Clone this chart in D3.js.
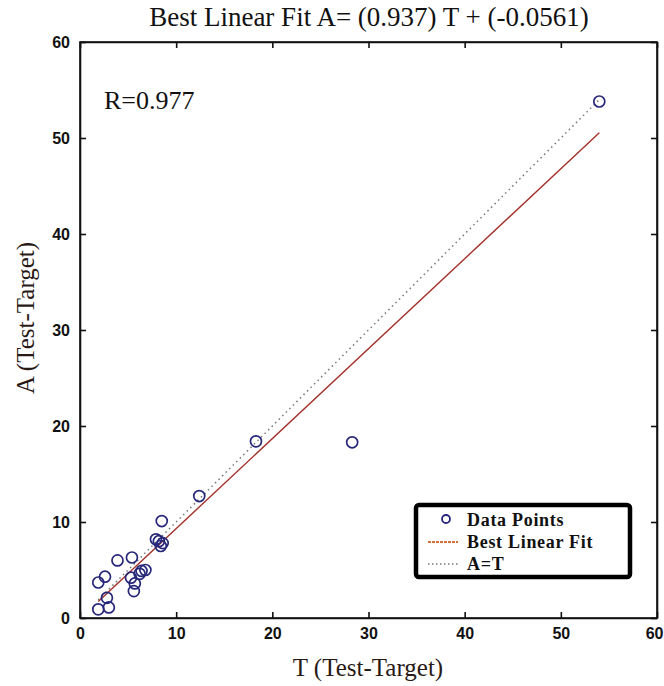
<!DOCTYPE html>
<html>
<head>
<meta charset="utf-8">
<script src="https://cdn.jsdelivr.net/npm/d3@7/dist/d3.min.js"></script>
<style>
  body { margin: 0; background: #fff; }
  svg { display: block; }
</style>
</head>
<body>
<script>
// data
var targetT = [1.9, 3.0, 2.8, 1.9, 2.6, 3.9, 5.4, 5.3, 5.7, 5.6, 6.2, 6.8, 6.4,
               7.9, 8.2, 8.6, 8.4, 8.5, 12.4, 18.3, 28.3, 54.0];
var outputA = [0.9, 1.1, 2.1, 3.7, 4.3, 6.0, 6.3, 4.2, 3.6, 2.8, 4.6, 5.0, 4.9,
               8.2, 8.0, 7.8, 7.5, 10.1, 12.7, 18.4, 18.3, 53.8];
var slope = 0.937, intercept = -0.0561, rValue = 0.977;
var tickValues = [0, 10, 20, 30, 40, 50, 60];
var legendLabels = ["Data Points", "Best Linear Fit", "A=T"];

var width = 664, height = 686;
var plot = {left: 80, right: 657, top: 42, bottom: 618};

var svg = d3.select("body").append("svg")
    .attr("width", width)
    .attr("height", height);

var x = d3.scaleLinear().domain([0, 60]).range([plot.left, plot.right]);
var y = d3.scaleLinear().domain([0, 60]).range([plot.bottom, plot.top]);

// box
svg.append("rect")
    .attr("x", plot.left).attr("y", plot.top)
    .attr("width", plot.right - plot.left)
    .attr("height", plot.bottom - plot.top)
    .attr("fill", "none").attr("stroke", "#111").attr("stroke-width", 1.6);

// axes, MATLAB style ticks pointing inward
var tickFont = "'Liberation Sans', Arial, sans-serif";
var xAxisG = svg.append("g")
    .attr("transform", "translate(0," + plot.bottom + ")")
    .call(d3.axisBottom(x).tickValues(tickValues).tickSizeInner(-6).tickSizeOuter(0).tickPadding(10));
svg.append("g")
    .attr("transform", "translate(" + plot.left + ",0)")
    .call(d3.axisLeft(y).tickValues(tickValues).tickSizeInner(-6).tickSizeOuter(0).tickPadding(10));
svg.append("g")
    .attr("transform", "translate(0," + plot.top + ")")
    .call(d3.axisTop(x).tickValues(tickValues).tickSizeInner(-6).tickSizeOuter(0).tickFormat(""));
svg.append("g")
    .attr("transform", "translate(" + plot.right + ",0)")
    .call(d3.axisRight(y).tickValues(tickValues).tickSizeInner(-6).tickSizeOuter(0).tickFormat(""));

svg.selectAll(".domain").attr("stroke", "#111").attr("stroke-width", 1.6);
svg.selectAll(".tick line").attr("stroke", "#111").attr("stroke-width", 1.6);
svg.selectAll(".tick text")
    .style("font-family", tickFont)
    .style("font-size", "16px")
    .style("font-weight", "bold")
    .attr("fill", "#111");
// last x label sits at the window edge; keep it inside
xAxisG.selectAll(".tick text")
    .filter(function(d){ return d === 60; })
    .attr("text-anchor", "end")
    .attr("dx", 6);

// A = T line (dotted)
var tMin = d3.min(targetT), tMax = d3.max(targetT);
svg.append("line")
    .attr("x1", x(tMin)).attr("y1", y(tMin))
    .attr("x2", x(tMax)).attr("y2", y(tMax))
    .attr("stroke", "#777").attr("stroke-width", 1.5)
    .attr("stroke-dasharray", "1.5,3.5");

// best linear fit
svg.append("line")
    .attr("x1", x(tMin)).attr("y1", y(slope * tMin + intercept))
    .attr("x2", x(tMax)).attr("y2", y(slope * tMax + intercept))
    .attr("stroke", "#a3302a").attr("stroke-width", 1.4);

// points
svg.append("g").selectAll("circle")
    .data(d3.range(targetT.length))
    .join("circle")
    .attr("cx", function(i){ return x(targetT[i]); })
    .attr("cy", function(i){ return y(outputA[i]); })
    .attr("r", 5.5)
    .attr("fill", "none")
    .attr("stroke", "#26267a")
    .attr("stroke-width", 1.7);

// texts
var serif = "'Liberation Serif', 'Times New Roman', serif";
svg.append("text")
    .attr("x", 369).attr("y", 26)
    .attr("text-anchor", "middle")
    .style("font-family", serif).style("font-size", "27px")
    .attr("fill", "#111")
    .text("Best Linear Fit A= (" + slope + ") T + (" + intercept + ")");

svg.append("text")
    .attr("x", 104).attr("y", 109)
    .style("font-family", serif).style("font-size", "26px")
    .attr("fill", "#111")
    .text("R=" + rValue);

svg.append("text")
    .attr("x", 368).attr("y", 676)
    .attr("text-anchor", "middle")
    .style("font-family", serif).style("font-size", "25px")
    .attr("fill", "#2a1a16")
    .text("T (Test-Target)");

svg.append("text")
    .attr("transform", "translate(34,318) rotate(-90)")
    .attr("text-anchor", "middle")
    .style("font-family", serif).style("font-size", "25px")
    .attr("fill", "#2a1a16")
    .text("A (Test-Target)");

// legend
var legend = svg.append("g").attr("transform", "translate(416,505)");
legend.append("rect")
    .attr("x", 0).attr("y", 0).attr("width", 214).attr("height", 72)
    .attr("rx", 3)
    .attr("fill", "#fff").attr("stroke", "#000").attr("stroke-width", 4.5);
var rowY = [15, 37, 59];
legend.append("circle")
    .attr("cx", 30).attr("cy", rowY[0] - 1).attr("r", 4)
    .attr("fill", "none").attr("stroke", "#26267a").attr("stroke-width", 1.8);
legend.append("line")
    .attr("x1", 12).attr("x2", 42).attr("y1", rowY[1]).attr("y2", rowY[1])
    .attr("stroke", "#d0703a").attr("stroke-width", 1.8)
    .attr("stroke-dasharray", "3,1");
legend.append("line")
    .attr("x1", 12).attr("x2", 42).attr("y1", rowY[2]).attr("y2", rowY[2])
    .attr("stroke", "#777").attr("stroke-width", 1.5)
    .attr("stroke-dasharray", "1.5,2.5");
legend.selectAll("text.lab")
    .data(legendLabels)
    .join("text")
    .attr("class", "lab")
    .attr("x", 51)
    .attr("y", function(d, i){ return rowY[i] + 6; })
    .style("font-family", serif).style("font-size", "18px")
    .style("font-weight", "bold")
    .style("letter-spacing", "0.7px")
    .attr("fill", "#111")
    .text(function(d){ return d; });
</script>
</body>
</html>
